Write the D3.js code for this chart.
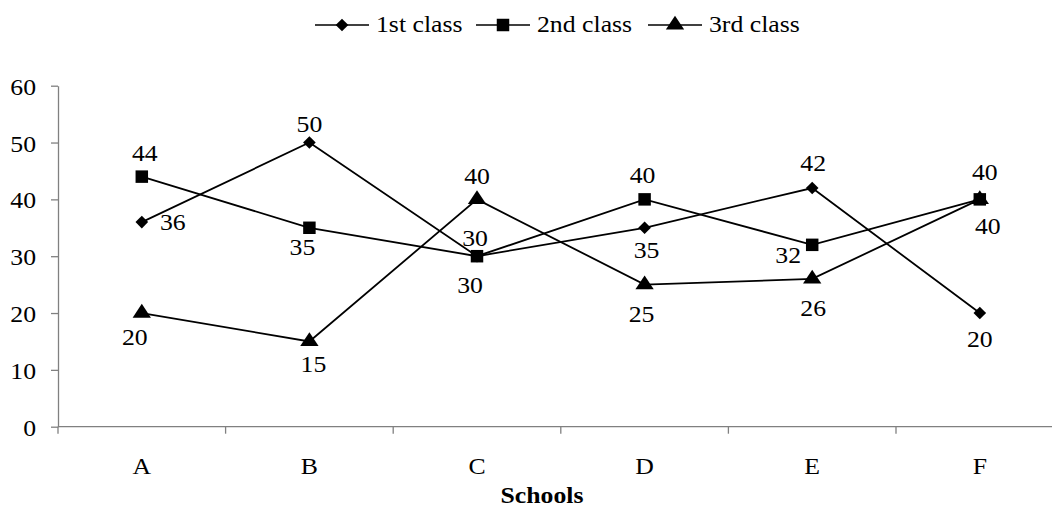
<!DOCTYPE html>
<html>
<head>
<meta charset="utf-8">
<script src="https://cdn.jsdelivr.net/npm/d3@7/dist/d3.min.js"></script>
<style>
  html, body { margin: 0; padding: 0; background: #fff; }
  svg { display: block; }
</style>
</head>
<body>
<svg id="chart" width="1052" height="522"></svg>
<script>
// Schools and number of students by class
const schools = ["A", "B", "C", "D", "E", "F"];
const firstClass  = [36, 50, 30, 35, 42, 20];
const secondClass = [44, 35, 30, 40, 32, 40];
const thirdClass  = [20, 15, 40, 25, 26, 40];
const seriesNames = ["1st class", "2nd class", "3rd class"];
const yTicks = [0, 10, 20, 30, 40, 50, 60];
const xTitle = "Schools";

// value-label placement (centre offset from the marker, px) per series, per school
const labelOffsets = [
  [[31, 0],   [0, -18],  [-7, 29],  [2, 22],   [1, -25],  [0, 26]],
  [[3, -23],  [-7, 19],  [-2, -18], [-2, -24], [-24, 10], [5, -27]],
  [[-7, 24],  [4, 23],   [0, -23],  [-3, 30],  [1, 29],   [8, 27]]
];

const series = [firstClass, secondClass, thirdClass].map((vals, i) => ({
  name: seriesNames[i],
  shape: ["diamond", "square", "triangle"][i],
  values: vals.map((v, j) => ({ school: schools[j], value: v, off: labelOffsets[i][j] }))
}));

const FONT = "'Liberation Serif'";
const FONT_SIZE = 23;
const HALF_DIGIT = 7.8;  // half the digit height, centres numbers vertically
const STRETCH = 1.12;    // text is drawn slightly wide

const svg = d3.select("#chart");
const plotLeft = 58, plotTop = 85.7, plotBottom = 426.7;
const step = 167.6;

const x = d3.scaleBand().domain(schools).range([plotLeft, plotLeft + step * schools.length]).paddingInner(0).paddingOuter(0);
const y = d3.scaleLinear().domain([0, 60]).range([plotBottom, plotTop]);
const cx = s => x(s) + x.bandwidth() / 2;

const axisColor = "#808080";

// writes a horizontally stretched text anchored at (px, py)
function label(parent, px, py, str, anchor, bold) {
  const g = parent.append("g").attr("transform", `translate(${px},${py}) scale(${STRETCH},1)`);
  g.append("text")
    .attr("text-anchor", anchor || "middle")
    .attr("fill", "#000")
    .style("font-family", FONT)
    .style("font-size", FONT_SIZE + "px")
    .style("font-weight", bold ? "bold" : "normal")
    .text(str);
  return g;
}

// Y axis
const yAxis = svg.append("g")
  .attr("transform", `translate(${plotLeft},0)`)
  .call(d3.axisLeft(y).tickValues(yTicks).tickSize(7).tickSizeOuter(0).tickFormat(""));
yAxis.select(".domain").attr("stroke", axisColor).attr("stroke-width", 1.3);
yAxis.selectAll(".tick line").attr("stroke", axisColor).attr("stroke-width", 1.3);
yTicks.forEach(t => label(svg, 36, y(t) + 9, String(t), "end"));

// X axis line with ticks at category boundaries
svg.append("line")
  .attr("x1", plotLeft).attr("x2", 1052).attr("y1", plotBottom).attr("y2", plotBottom)
  .attr("stroke", axisColor).attr("stroke-width", 1.3);
const boundaries = schools.map(s => x(s));
svg.selectAll(".xtick").data(boundaries).join("line")
  .attr("class", "xtick")
  .attr("x1", d => d).attr("x2", d => d)
  .attr("y1", plotBottom).attr("y2", plotBottom + 7)
  .attr("stroke", axisColor).attr("stroke-width", 1.3);
schools.forEach(s => label(svg, cx(s), plotBottom + 47, s));

label(svg, 542, 503, xTitle, "middle", true);

// Marker shapes
const diamond = d3.symbol().type({
  draw(ctx, size) {
    const r = Math.sqrt(size / 2);
    ctx.moveTo(0, -r); ctx.lineTo(r, 0); ctx.lineTo(0, r); ctx.lineTo(-r, 0); ctx.closePath();
  }
}).size(80);
const symbolFor = {
  diamond: diamond,
  square: d3.symbol().type(d3.symbolSquare).size(156),
  triangle: d3.symbol().type(d3.symbolTriangle).size(110)
};

const line = d3.line().x(d => cx(d.school)).y(d => y(d.value));

series.forEach(s => {
  svg.append("path")
    .datum(s.values)
    .attr("d", line)
    .attr("fill", "none")
    .attr("stroke", "#000")
    .attr("stroke-width", 1.8);
});

series.forEach(s => {
  svg.selectAll(null).data(s.values).join("path")
    .attr("d", symbolFor[s.shape])
    .attr("transform", d => `translate(${cx(d.school)},${y(d.value)})` + (s.shape === "triangle" ? " scale(1.15,1)" : ""))
    .attr("fill", "#000");
});

// Value labels
series.forEach(s => {
  s.values.forEach(d => {
    label(svg, cx(d.school) + d.off[0], y(d.value) + d.off[1] + HALF_DIGIT, String(d.value));
  });
});

// Legend
const legendItems = [
  { x: 315, name: seriesNames[0], shape: "diamond" },
  { x: 476, name: seriesNames[1], shape: "square" },
  { x: 648, name: seriesNames[2], shape: "triangle" }
];
const lg = svg.append("g");
legendItems.forEach(it => {
  lg.append("line")
    .attr("x1", it.x).attr("x2", it.x + 54)
    .attr("y1", 25).attr("y2", 25)
    .attr("stroke", "#000").attr("stroke-width", 1.5);
  lg.append("path")
    .attr("d", symbolFor[it.shape])
    .attr("transform", `translate(${it.x + 27},25)` + (it.shape === "triangle" ? " scale(1.15,1)" : ""))
    .attr("fill", "#000");
  label(lg, it.x + 61, 32, it.name, "start");
});
</script>
</body>
</html>
